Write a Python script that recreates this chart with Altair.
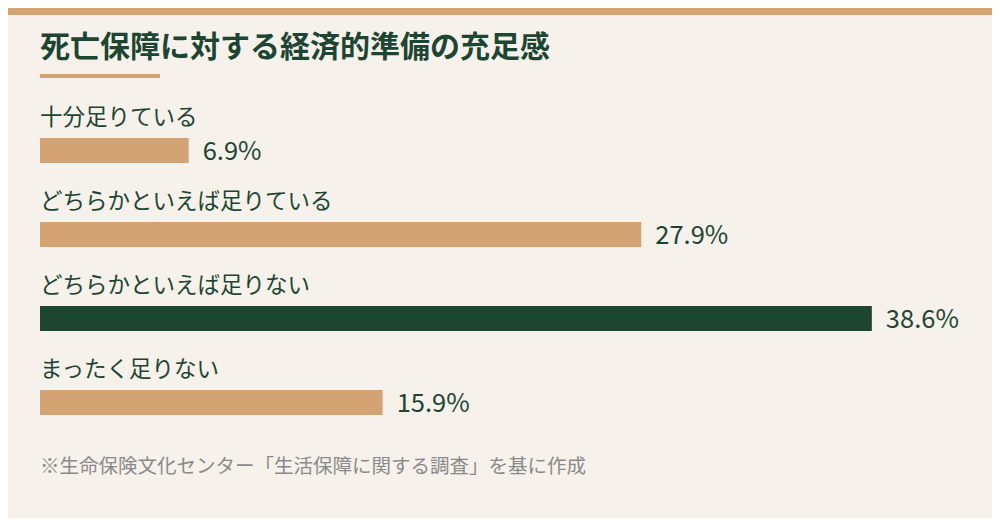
import altair as alt
import pandas as pd

categories = ["十分足りている", "どちらかといえば足りている", "どちらかといえば足りない", "まったく足りない"]
values = [6.9, 27.9, 38.6, 15.9]
highlight = [False, False, True, False]

title_text = "死亡保障に対する経済的準備の充足感"
source_text = "※生命保険文化センター「生活保障に関する調査」を基に作成"

BG = "#f6f1ea"
TAN = "#d4a373"
GREEN = "#1c4532"
FONT = "Noto Sans CJK JP"

df = pd.DataFrame({
    "category": categories,
    "value": values,
    "hl": highlight,
    "label": [f"{v}%" for v in values],
})

W, H = 984, 510

yscale = alt.Scale(domain=categories, range=[100.5, 436.5], paddingInner=0, paddingOuter=0)
xscale = alt.Scale(domain=[0, 40], range=[32, 894], nice=False, zero=True)

y_enc = alt.Y("category:N", scale=yscale, axis=None, sort=categories)
x_enc = alt.X("value:Q", scale=xscale, axis=None)

bars = alt.Chart(df).mark_bar(height=25, cornerRadius=0).encode(
    x=x_enc,
    x2=alt.value(32),
    y=y_enc,
    color=alt.Color("hl:N", scale=alt.Scale(domain=[False, True], range=[TAN, GREEN]), legend=None),
)

cat_labels = alt.Chart(df).mark_text(
    align="left", baseline="middle", dy=-33, fontSize=22.5, font=FONT, color=GREEN
).encode(
    x=alt.value(32),
    y=y_enc,
    text="category:N",
)

val_labels = alt.Chart(df).mark_text(
    align="left", baseline="middle", dx=14, dy=1, fontSize=25.5, font=FONT, color=GREEN
).encode(
    x=x_enc,
    y=y_enc,
    text="label:N",
)

deco = pd.DataFrame({"k": [0]})

top_strip = alt.Chart(deco).mark_rule(color=TAN, strokeWidth=7).encode(
    x=alt.value(0), x2=alt.value(W), y=alt.value(3.5)
)

underline = alt.Chart(deco).mark_rule(color=TAN, strokeWidth=4).encode(
    x=alt.value(32), x2=alt.value(152), y=alt.value(68)
)

title = alt.Chart(deco).mark_text(
    align="left", baseline="middle", fontSize=30, fontWeight="bold", font=FONT, color=GREEN
).encode(
    x=alt.value(32), y=alt.value(40), text=alt.value(title_text)
)

source = alt.Chart(deco).mark_text(
    align="left", baseline="middle", fontSize=19.5, font=FONT, color="#8a8a8a"
).encode(
    x=alt.value(32), y=alt.value(459), text=alt.value(source_text)
)

chart = alt.layer(top_strip, underline, title, bars, cat_labels, val_labels, source).properties(
    width=W, height=H, background=BG, padding=0,
    autosize=alt.AutoSizeParams(type="none"),
).configure_view(stroke=None, clip=False)

chart.save("out.html", embed_options={"renderer": "svg", "actions": False})
